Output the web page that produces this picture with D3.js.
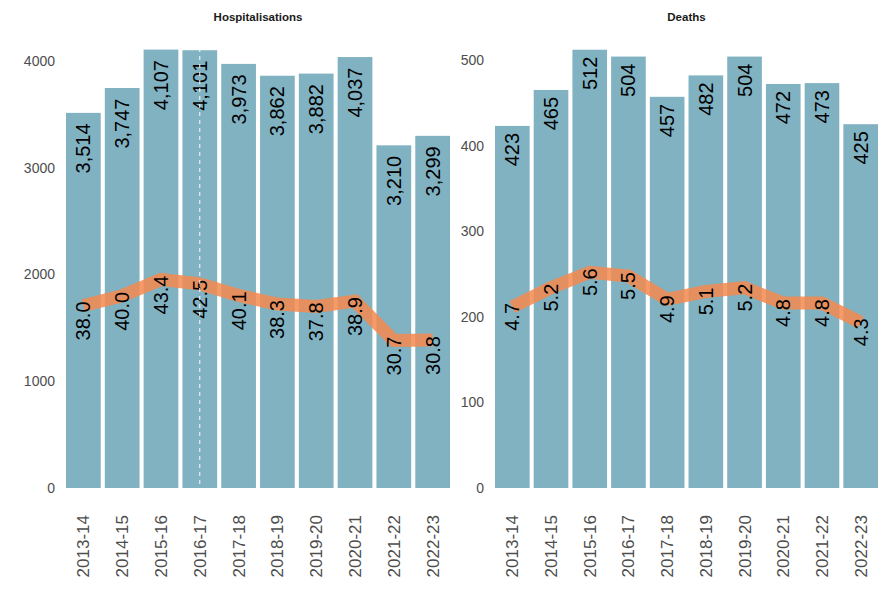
<!DOCTYPE html>
<html><head><meta charset="utf-8">
<script src="https://cdn.jsdelivr.net/npm/d3@7"></script>
<style>body{margin:0;background:#fff;} svg{display:block;font-family:"Liberation Sans",Arial,sans-serif;}</style>
</head><body><div id="chart"></div>
<script>
const categories = ["2013-14","2014-15","2015-16","2016-17","2017-18","2018-19","2019-20","2020-21","2021-22","2022-23"];
const hospCounts = [3514,3747,4107,4101,3973,3862,3882,4037,3210,3299];
const hospRates = [38.0,40.0,43.4,42.5,40.1,38.3,37.8,38.9,30.7,30.8];
const deathCounts = [423,465,512,504,457,482,504,472,473,425];
const deathRates = [4.7,5.2,5.6,5.5,4.9,5.1,5.2,4.8,4.8,4.3];
const hospTicks = [0,1000,2000,3000,4000];
const deathTicks = [0,100,200,300,400,500];
const rateFactor = 45; // secondary-axis scaling of the rate line
const markedCategory = "2016-17";

const W = 890, H = 600;
const svg = d3.select("#chart").append("svg").attr("width", W).attr("height", H);

const BAR = "#81B2C2", LINE = "#F5894E", TXT = "#4D4D4D";
const panelTop = 48, panelBottom = 488;

function panel(opt) {
  const x = d3.scaleBand().domain(categories).range(opt.xr).paddingInner(0.105).paddingOuter(0);
  const y = d3.scaleLinear().domain([0, opt.ymax]).range([panelBottom, panelTop]);
  const g = svg.append("g");
  const clipId = "clip" + opt.id;
  svg.append("clipPath").attr("id", clipId).append("rect")
    .attr("x", opt.xr[0] - 5).attr("y", panelTop).attr("width", opt.xr[1] - opt.xr[0] + 10).attr("height", panelBottom - panelTop);

  g.append("text").attr("x", (opt.xr[0] + opt.xr[1]) / 2).attr("y", 21)
    .attr("text-anchor", "middle").attr("font-weight", "bold").attr("font-size", 11.5)
    .attr("fill", "#1a1a1a").text(opt.title);

  // y axis
  const ya = g.append("g").attr("transform", `translate(${opt.xr[0] - 11},0)`)
    .call(d3.axisLeft(y).tickValues(opt.ticks).tickSize(0).tickPadding(0).tickFormat(d3.format("d")));
  ya.select(".domain").remove();
  ya.selectAll("text").attr("font-size", 14).attr("fill", TXT).attr("font-family", "Liberation Sans, Arial, sans-serif");

  // x axis
  const xa = g.append("g").attr("transform", `translate(0,${panelBottom + 27})`)
    .call(d3.axisBottom(x).tickSize(0).tickPadding(0));
  xa.select(".domain").remove();
  xa.selectAll("text").attr("font-size", 17).attr("fill", TXT).attr("font-family", "Liberation Sans, Arial, sans-serif")
    .attr("transform", "rotate(-90)").attr("text-anchor", "end").attr("x", 0).attr("y", 0).attr("dy", "0.35em");

  const cg = g.append("g").attr("clip-path", `url(#${clipId})`);
  cg.selectAll("rect.bar").data(categories).join("rect").attr("class", "bar")
    .attr("x", d => x(d)).attr("width", x.bandwidth())
    .attr("y", (d, i) => y(opt.counts[i])).attr("height", (d, i) => panelBottom - y(opt.counts[i]))
    .attr("fill", BAR);

  const line = d3.line().x(d => x(d.c) + x.bandwidth() / 2).y(d => y(d.r * rateFactor));
  const pts = categories.map((c, i) => ({ c, r: opt.rates[i] }));
  cg.append("path").datum(pts).attr("d", line).attr("fill", "none")
    .attr("stroke", LINE).attr("stroke-opacity", 0.86).attr("stroke-width", 13).attr("stroke-linejoin", "miter");

  // bar labels
  g.selectAll("text.bl").data(categories).join("text").attr("class", "bl")
    .attr("transform", (d, i) => `translate(${x(d) + x.bandwidth() / 2},${y(opt.counts[i]) + opt.labelOff}) rotate(-90)`)
    .attr("text-anchor", "end").attr("dy", "0.35em").attr("font-size", 20).attr("fill", "#000")
    .text((d, i) => d3.format(",")(opt.counts[i]));

  // rate labels
  g.selectAll("text.rl").data(pts).join("text").attr("class", "rl")
    .attr("transform", d => `translate(${x(d.c) + x.bandwidth() / 2},${y(d.r * rateFactor) - 4}) rotate(-90)`)
    .attr("text-anchor", "end").attr("dy", "0.35em").attr("font-size", 20).attr("fill", "#000")
    .text(d => d3.format(".1f")(d.r));

  if (opt.mark) {
    const mx = x(markedCategory) + x.bandwidth() / 2;
    g.append("line").attr("x1", mx).attr("x2", mx).attr("y1", panelTop).attr("y2", panelBottom)
      .attr("stroke", "#fff").attr("stroke-width", 1).attr("stroke-dasharray", "4,4");
  }
}

panel({ id: 1, title: "Hospitalisations", xr: [66, 450], ymax: 4000 * (panelBottom - panelTop) / (panelBottom - 61), counts: hospCounts, rates: hospRates, ticks: hospTicks, mark: true, labelOff: 10.5 });
panel({ id: 2, title: "Deaths", xr: [495, 878], ymax: 500 * (panelBottom - panelTop) / (panelBottom - 60), counts: deathCounts, rates: deathRates, ticks: deathTicks, mark: false, labelOff: 7 });
</script>
</body></html>
